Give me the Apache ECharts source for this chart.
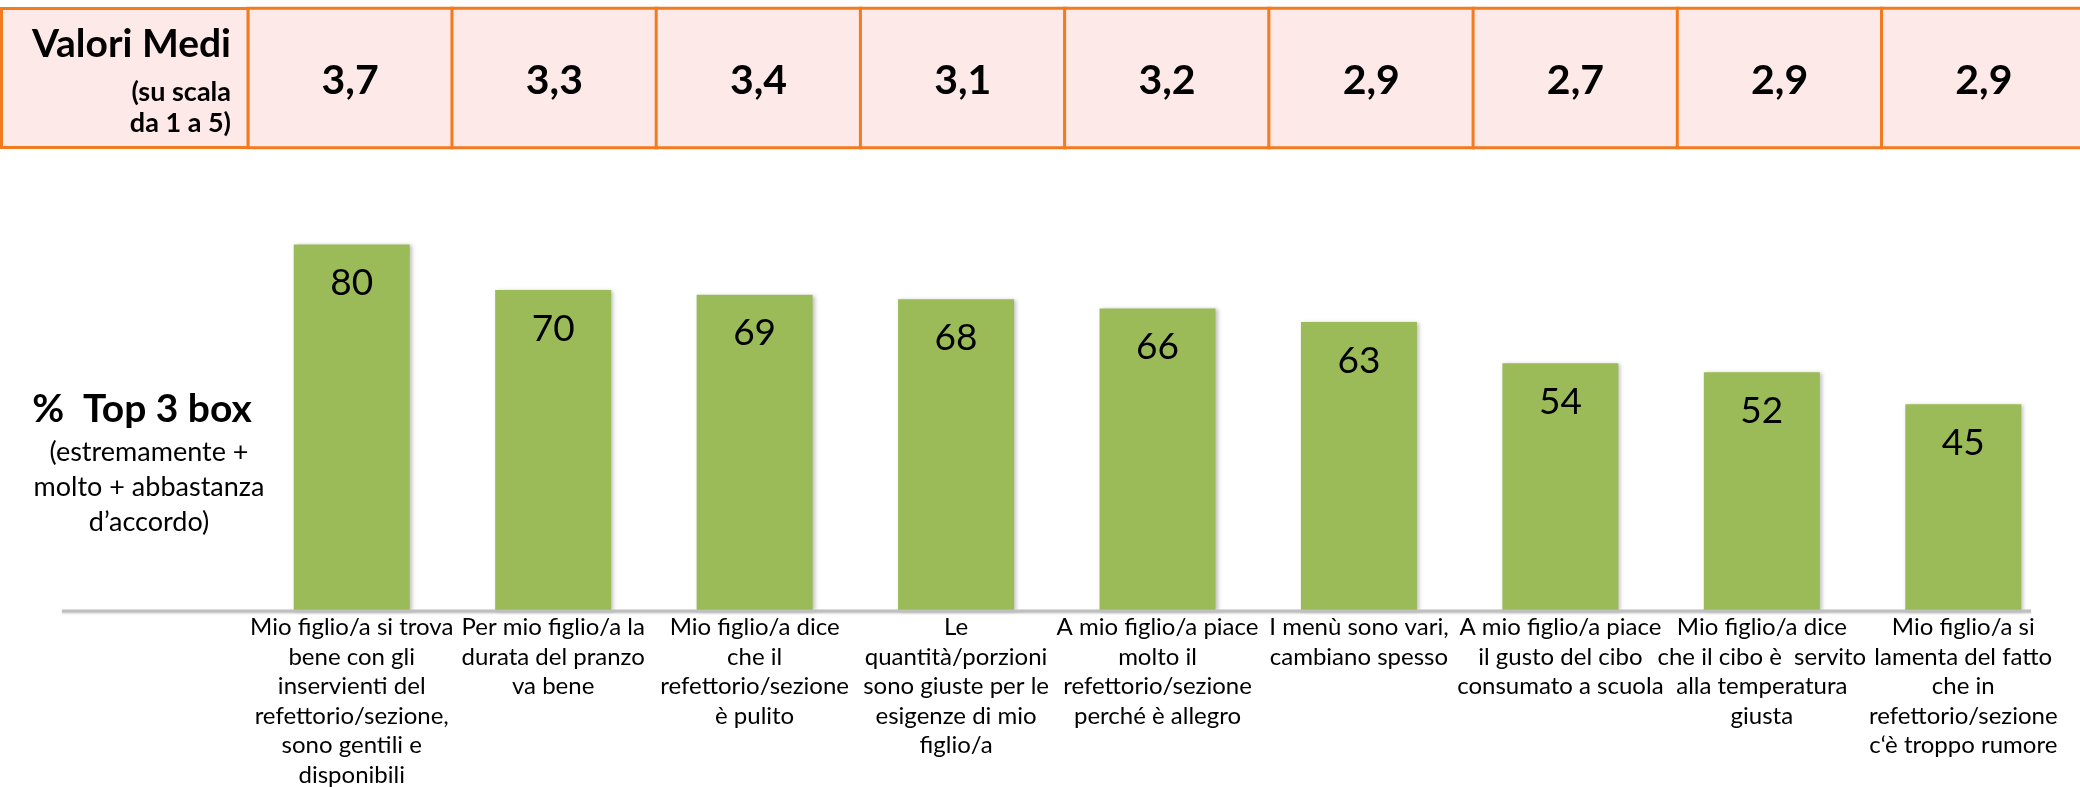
<!DOCTYPE html>
<html>
<head>
<meta charset="utf-8">
<script src="https://cdn.jsdelivr.net/npm/echarts@6/dist/echarts.min.js"></script>
<style>
  html, body { margin: 0; padding: 0; background: #fff; }
  #chart { width: 2080px; height: 787px; }
</style>
</head>
<body>
<div id="chart"></div>
<script>
// categories (x axis labels, line breaks as in the slide)
var categories = [
  'Mio figlio/a si trova\nbene con gli\ninservienti del\nrefettorio/sezione,\nsono gentili e\ndisponibili',
  'Per mio figlio/a la\ndurata del pranzo\nva bene',
  'Mio figlio/a dice\nche il\nrefettorio/sezione\nè pulito',
  'Le\nquantità/porzioni\nsono giuste per le\nesigenze di mio\nfiglio/a',
  'A mio figlio/a piace\nmolto il\nrefettorio/sezione\nperché è allegro',
  'I menù sono vari,\ncambiano spesso',
  'A mio figlio/a piace\nil gusto del cibo\nconsumato a scuola',
  'Mio figlio/a dice\nche il cibo è  servito\nalla temperatura\ngiusta',
  'Mio figlio/a si\nlamenta del fatto\nche in\nrefettorio/sezione\nc‘è troppo rumore'
];
// % top 3 box
var top3 = [80, 70, 69, 68, 66, 63, 54, 52, 45];
// valori medi (scala 1-5)
var medie = [3.7, 3.3, 3.4, 3.1, 3.2, 2.9, 2.7, 2.9, 2.9];

var FONT = 'Lato, "Open Sans", sans-serif';
var ORANGE = '#F27A1F';
var PINK = '#FDE9E7';
var GREEN = '#9BBB59';

var chart = echarts.init(document.getElementById('chart'));

var tableData = [];
for (var i = 0; i < medie.length; i++) {
  tableData.push([i, 0, medie[i]]);
}

var option = {
  animation: false,
  textStyle: { fontFamily: FONT },
  grid: [
    { left: 251, right: 16, top: 153, bottom: 177, outerBoundsMode: 'none', containLabel: false },
    { left: 248, width: 1838, top: 8.5, height: 139, outerBoundsMode: 'none', containLabel: false }
  ],
  xAxis: [
    {
      type: 'category',
      gridIndex: 0,
      data: categories,
      axisLine: { show: false },
      axisTick: { show: false },
      axisLabel: {
        interval: 0,
        margin: 3,
        color: '#000',
        fontFamily: FONT,
        fontSize: 24,
        lineHeight: 29.5
      }
    },
    {
      type: 'category',
      gridIndex: 1,
      data: categories,
      show: false
    }
  ],
  yAxis: [
    { type: 'value', gridIndex: 0, min: 0, max: 100, show: false },
    { type: 'category', gridIndex: 1, data: ['medi'], show: false }
  ],
  series: [
    {
      type: 'bar',
      xAxisIndex: 0,
      yAxisIndex: 0,
      data: top3,
      barWidth: 116,
      itemStyle: {
        color: GREEN,
        shadowBlur: 4,
        shadowOffsetX: 2,
        shadowOffsetY: 1,
        shadowColor: 'rgba(0,0,0,0.25)'
      },
      label: {
        show: true,
        position: 'insideTop',
        distance: 20,
        color: '#000',
        fontFamily: FONT,
        fontSize: 37,
        lineHeight: 37
      },
      emphasis: { disabled: true }
    },
    {
      type: 'heatmap',
      xAxisIndex: 1,
      yAxisIndex: 1,
      data: tableData,
      itemStyle: {
        color: PINK,
        borderColor: ORANGE,
        borderWidth: 3
      },
      label: {
        show: true,
        color: '#000',
        fontFamily: FONT,
        fontWeight: 'bold',
        fontSize: 41,
        offset: [0, 3],
        formatter: function (p) {
          return p.value[2].toFixed(1).replace('.', ',');
        }
      },
      emphasis: { disabled: true }
    }
  ],
  graphic: [
    // header cell of the table
    {
      type: 'rect',
      z: 10,
      shape: { x: 1.5, y: 8.5, width: 246.5, height: 139 },
      style: { fill: PINK, stroke: ORANGE, lineWidth: 3 }
    },
    {
      type: 'text', z: 11,
      style: { text: 'Valori Medi', x: 231, y: 44, align: 'right', verticalAlign: 'middle',
        font: 'bold 39px ' + FONT, fill: '#000' }
    },
    {
      type: 'text', z: 11,
      style: { text: '(su scala', x: 231, y: 92, align: 'right', verticalAlign: 'middle',
        font: 'bold 27px ' + FONT, fill: '#000' }
    },
    {
      type: 'text', z: 11,
      style: { text: 'da 1 a 5)', x: 231, y: 123, align: 'right', verticalAlign: 'middle',
        font: 'bold 27px ' + FONT, fill: '#000' }
    },
    // baseline of the bars
    {
      type: 'line', z: 5,
      shape: { x1: 62, y1: 611, x2: 2031, y2: 611 },
      style: { stroke: '#BFBFBF', lineWidth: 3, shadowBlur: 2, shadowOffsetY: 1, shadowColor: 'rgba(0,0,0,0.2)' }
    },
    // left side caption
    {
      type: 'text',
      style: { text: '%  Top 3 box', x: 142, y: 409, align: 'center', verticalAlign: 'middle',
        font: 'bold 39px ' + FONT, fill: '#000' }
    },
    {
      type: 'text',
      style: { text: '(estremamente +\nmolto + abbastanza\nd’accordo)', x: 149, y: 487, align: 'center', verticalAlign: 'middle',
        font: '27px ' + FONT, lineHeight: 35, fill: '#000' }
    }
  ]
};

chart.setOption(option);
</script>
</body>
</html>
